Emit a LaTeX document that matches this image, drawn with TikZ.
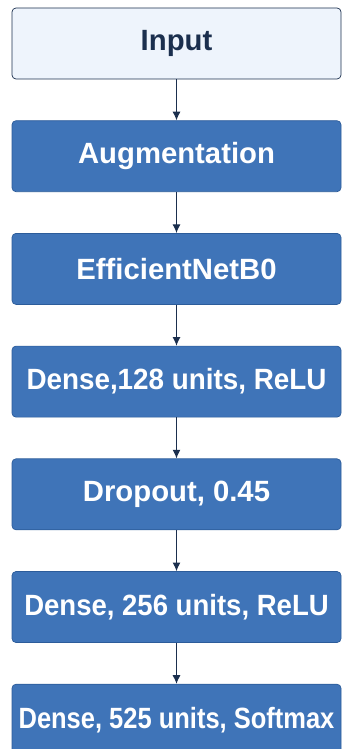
\documentclass[tikz,border=0pt]{standalone}
\usepackage{fontspec}
\setmainfont{Liberation Sans}
\usepackage{graphicx}
\usetikzlibrary{arrows.meta}
\usetikzlibrary{positioning}
\definecolor{layerblue}{HTML}{3F74B8}
\definecolor{layeredge}{HTML}{2C5C9A}
\definecolor{inputfill}{HTML}{EEF4FC}
\definecolor{navy}{HTML}{1B2F4E}
\newcommand\squeeze[2]{\scalebox{#1}[1]{#2}}
\tikzset{
    layer box/.style={
        draw=layeredge,
        fill=layerblue,
        text=white,
        rounded corners=0.12cm,
        line width=0.6pt,
        minimum width=9.87cm,
        minimum height=2.13cm,
        inner sep=0,
        font=\fontsize{25}{30}\selectfont\bfseries,
    },
    input box/.style={
        layer box,
        draw=navy,
        fill=inputfill,
        text=navy,
    },
    flow arrow/.style={
        draw=navy,
        line width=0.9pt,
        -{Latex[length=2.6mm,width=2.4mm]},
    },
}

\begin{document}
\begin{tikzpicture}[node distance=1.23cm]

    \useasboundingbox (0,0) rectangle (10.26,-22.47);

    \node[input box] (input) at (5.295,-1.305) {Input};
    \node[layer box, below=of input] (aug) {Augmentation};
    \node[layer box, below=of aug] (effnet) {EfficientNetB0};
    \node[layer box, below=of effnet] (dense1) {\squeeze{0.95}{Dense,128 units, ReLU}};
    \node[layer box, below=of dense1] (drop) {Dropout, 0.45};
    \node[layer box, below=of drop] (dense2) {\squeeze{0.94}{Dense, 256 units, ReLU}};
    \node[layer box, below=of dense2] (dense3) {\squeeze{0.87}{Dense, 525 units, Softmax}};

    \foreach \a/\b in {input/aug, aug/effnet, effnet/dense1, dense1/drop, drop/dense2, dense2/dense3}
    {
        \draw[flow arrow] (\a) -- (\b);
    }

\end{tikzpicture}
\end{document}
